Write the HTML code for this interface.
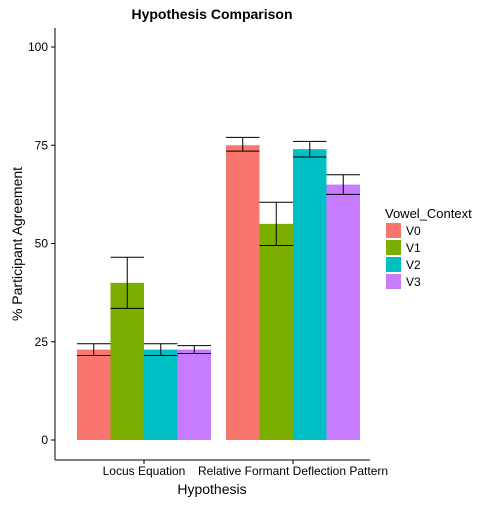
<!DOCTYPE html>
<html><head><meta charset="utf-8"><style>
body{margin:0;background:#fff;}
svg text{font-family:"Liberation Sans",sans-serif;}
</style></head><body>
<svg id="chart" width="504" height="504" xmlns="http://www.w3.org/2000/svg">
<text x="212" y="19" text-anchor="middle" font-size="14" font-weight="bold">Hypothesis Comparison</text>
<g id="axes"></g>
<g id="bars"></g>
<text x="212" y="494" text-anchor="middle" font-size="14">Hypothesis</text>
<text transform="translate(22,244) rotate(-90)" text-anchor="middle" font-size="14">% Participant Agreement</text>
<g>
<text x="385" y="218" font-size="13">Vowel_Context</text>
<g id="legend"></g>
</g>
</svg>
<script>
const categories=["Locus Equation","Relative Formant Deflection Pattern"];
const series=["V0","V1","V2","V3"];
const colors=["#F8766D","#7CAE00","#00BFC4","#C77CFF"];
const values=[[23,40,23,23],[75,55,74,65]];
const errLow=[[21.5,33.5,21.5,22],[73.5,49.5,72,62.5]];
const errHigh=[[24.5,46.5,24.5,24],[77,60.5,76,67.5]];
const yTicks=[0,25,50,75,100];
const NS="http://www.w3.org/2000/svg";
const y=v=>440-v*3.93;
const groupX=i=>77+i*149;
const barW=33.5;
function mk(t,a,p){const e=document.createElementNS(NS,t);for(const k in a)e.setAttribute(k,a[k]);p.appendChild(e);return e;}
const axes=document.getElementById('axes');
let l=mk('line',{x1:55,y1:28,x2:55,y2:460,stroke:'#000','stroke-width':1},axes);


l=mk('line',{x1:55,y1:460,x2:370,y2:460,stroke:'#000','stroke-width':1},axes);


yTicks.forEach(t=>{
 const tk=mk('line',{x1:51,x2:55,y1:y(t),y2:y(t),stroke:'#000'},axes);
 
 
 const tx=mk('text',{x:48,y:y(t)+4,'text-anchor':'end','font-size':12,fill:'#000'},axes);
 tx.textContent=t;
 
 
});
categories.forEach((c,i)=>{
 const cx=groupX(i)+barW*2;
 const tk=mk('line',{x1:cx,x2:cx,y1:460,y2:464,stroke:'#000'},axes);
 
 
 const tx=mk('text',{x:cx,y:475,'text-anchor':'middle','font-size':12},axes);
 tx.textContent=c;
 
 
});
const bars=document.getElementById('bars');
values.forEach((row,i)=>row.forEach((v,j)=>{
 const x=groupX(i)+j*barW;
 const r=mk('rect',{x:x,y:y(v),width:barW,height:y(0)-y(v),fill:colors[j]},bars);
 
 
 const g=mk('g',{stroke:'#000','stroke-width':1},bars);
 
 
 const m=x+barW/2;
 mk('line',{x1:m,x2:m,y1:y(errLow[i][j]),y2:y(errHigh[i][j])},g);
 mk('line',{x1:x,x2:x+barW,y1:y(errLow[i][j]),y2:y(errLow[i][j])},g);
 mk('line',{x1:x,x2:x+barW,y1:y(errHigh[i][j]),y2:y(errHigh[i][j])},g);
}));
const lg=document.getElementById('legend');
series.forEach((s,j)=>{
 const r=mk('rect',{x:386,y:223+j*17,width:15,height:15,fill:colors[j]},lg);
 
 
 const t=mk('text',{x:406,y:235+j*17,'font-size':12},lg);
 t.textContent=s;
 
 
});
</script>
</body></html>
